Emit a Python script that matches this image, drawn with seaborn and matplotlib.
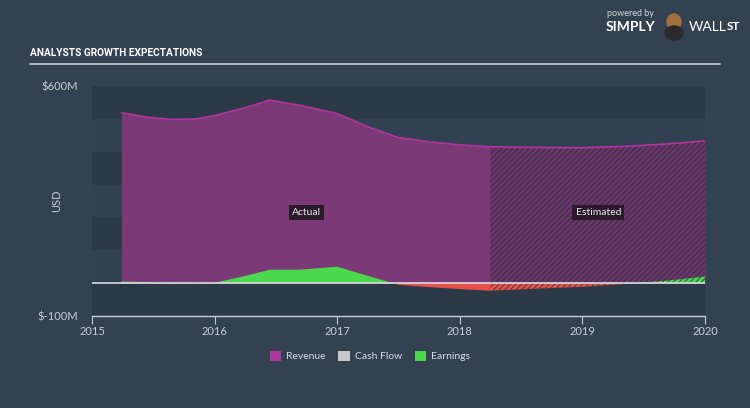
import numpy as np
import pandas as pd
import matplotlib
matplotlib.use("Agg")
import matplotlib.pyplot as plt
import seaborn as sns
from matplotlib.patches import Rectangle, Ellipse

# ---- data (USD millions) ----
years = [2015.24, 2015.45, 2015.65, 2015.85, 2016.0, 2016.25, 2016.45, 2016.7,
         2017.0, 2017.27, 2017.5, 2017.75, 2018.0, 2018.25, 2018.6, 2019.0,
         2019.4, 2019.7, 2020.0]
revenue = [519, 505, 498, 500, 510, 534, 557, 541, 516, 473, 443, 430, 421,
           415, 413, 412, 417, 424, 433]
earnings = [5, 3, 1, 0, 1, 22, 41, 41, 50, 20, -5, -12, -18, -23, -17, -11,
            -1, 8, 20]
estimate_start = 2018.25
legend_labels = ["Revenue", "Cash Flow", "Earnings"]
legend_colors = ["#b0359f", "#c8c8c8", "#4cd84c"]
ytick_vals = [600, -100]
ytick_labels = ["$600M", "$-100M"]
xtick_vals = [2015, 2016, 2017, 2018, 2019, 2020]

df = pd.DataFrame({"year": years, "revenue": revenue, "earnings": earnings})

BG = "#334151"
sns.set_theme(style="dark")
plt.rcParams["font.family"] = ["Lato", "DejaVu Sans"]
plt.rcParams["hatch.linewidth"] = 0.6

fig = plt.figure(figsize=(7.5, 4.08), dpi=100, facecolor=BG)
ax = fig.add_axes([92 / 750, 1 - 316 / 408, (705 - 92) / 750, (316 - 86) / 408])
ax.set_facecolor("#324152")
ax.set_xlim(2015, 2020)
ax.set_ylim(-100, 600)

# horizontal bands
for lo in [-100, 100, 300, 500]:
    ax.axhspan(lo, lo + 100, color="#2c3a48", zorder=0, lw=0)

x = np.array(years)
rev = np.array(revenue)
ear = np.array(earnings)
est = x >= estimate_start - 1e-9

# revenue fill
ax.fill_between(x, 0, rev, color="#7b3a77", lw=0, zorder=2)
ax.fill_between(x[est], 0, rev[est], facecolor="#6a3568", edgecolor="#2e2f42",
                hatch="//////", lw=0, zorder=3)
sns.lineplot(data=df, x="year", y="revenue", color="#b0359f", lw=1.2, ax=ax,
             zorder=4, legend=False)

# earnings fill
ax.fill_between(x, 0, ear, where=ear >= 0, interpolate=True, color="#4cd84c",
                lw=0, zorder=5)
ax.fill_between(x, 0, ear, where=ear <= 0, interpolate=True, color="#e8504a",
                lw=0, zorder=5)
ax.fill_between(x[est], 0, ear[est], facecolor="none", edgecolor="#2e3a40",
                hatch="//////", lw=0, zorder=6)

# zero line
ax.axhline(0, color="#d8dde2", lw=1.2, zorder=7)

# labels
for xx, txt in [(2016.75, "Actual"), (2019.13, "Estimated")]:
    ax.text(xx, 214, txt, color="#e6e6e6", fontsize=7.5, ha="center",
            va="center", zorder=8,
            bbox=dict(boxstyle="square,pad=0.3", fc="#2a1a2c", ec="none"))

# axes styling
for s in ["top", "right", "left"]:
    ax.spines[s].set_visible(False)
ax.spines["bottom"].set_color("#c8cdd3")
ax.spines["bottom"].set_linewidth(1.0)
ax.set_xticks(xtick_vals)
ax.set_xticklabels([str(v) for v in xtick_vals])
ax.tick_params(axis="x", colors="#c8cdd3", labelsize=8, length=6, width=0.8,
               direction="out", pad=1, bottom=True)
ax.set_yticks(ytick_vals)
ax.set_yticklabels(ytick_labels)
ax.tick_params(axis="y", colors="#c8cdd3", labelsize=8, length=0, pad=10)
ax.set_xlabel("")
ax.set_ylabel("USD", color="#c8cdd3", fontsize=8)
ax.yaxis.set_label_coords((62 - 92) / 613, 0.5)
ax.grid(False)

# title and rule
title = fig.text(30 / 750, 1 - 53 / 408, "ANALYSTS GROWTH EXPECTATIONS",
                 color="white", fontsize=10, fontweight="bold", va="center",
                 family=["Roboto", "DejaVu Sans"])
fig.canvas.draw()
w = title.get_window_extent().width
title.set_fontsize(10 * 172 / w)
fig.add_artist(plt.Line2D([30 / 750, 720 / 750], [1 - 64 / 408, 1 - 64 / 408],
                          color="#c8cdd3", lw=1.2))

# branding
fig.text(607 / 750, 1 - 14 / 408, "powered by", color="#d0d4d8", fontsize=6.5,
         va="center")
fig.text(606 / 750, 1 - 27 / 408, "SIMPLY", color="white", fontsize=10,
         fontweight="bold", va="center")
fig.add_artist(Ellipse((674 / 750, 1 - 22 / 408), 14 / 750, 16 / 408,
                       color="#a0703a", transform=fig.transFigure))
fig.add_artist(Ellipse((674 / 750, 1 - 33 / 408), 18 / 750, 14 / 408,
                       color="#2a2a2e", transform=fig.transFigure))
fig.text(689 / 750, 1 - 27 / 408, "WALL", color="white", fontsize=10,
         va="center")
fig.text(727 / 750, 1 - 27 / 408, "ST", color="white", fontsize=8.5,
         fontweight="bold", va="center")

# legend
handles = [Rectangle((0, 0), 1, 1, fc=c, ec="none") for c in legend_colors]
leg = fig.legend(handles, legend_labels, loc="center", ncol=3,
                 bbox_to_anchor=(370 / 750, 1 - 356 / 408), frameon=False,
                 fontsize=7.5, handlelength=1.1, handleheight=1.1,
                 handletextpad=0.5, columnspacing=1.2)
for t in leg.get_texts():
    t.set_color("#d8dce0")

fig.savefig("out.png", dpi=100, facecolor=BG)
